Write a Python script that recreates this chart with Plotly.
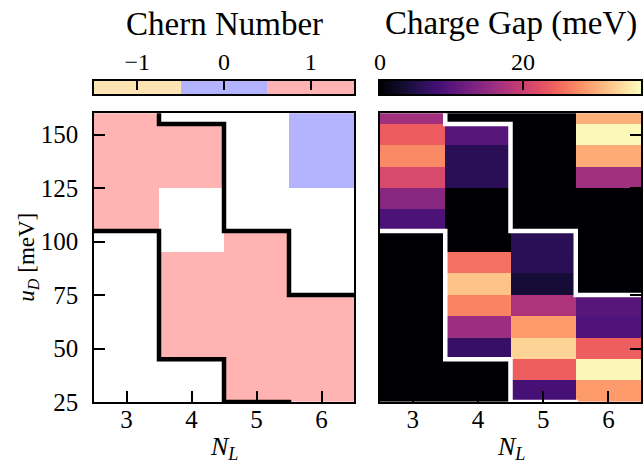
import plotly.graph_objects as go
import numpy as np

N_L = [3, 4, 5, 6]
u_D = [30, 40, 50, 60, 70, 80, 90, 100, 110, 120, 130, 140, 150, 160]

# Chern number per N_L column (rows ordered by u_D ascending); None = gapless
chern_NL3 = [None, None, None, None, None, None, None, None, 1, 1, 1, 1, 1, 1]
chern_NL4 = [None, None, 1, 1, 1, 1, 1, None, None, None, 1, 1, 1, None]
chern_NL5 = [1, 1, 1, 1, 1, 1, 1, 1, None, None, None, None, None, None]
chern_NL6 = [1, 1, 1, 1, 1, None, None, None, None, None, 0, 0, 0, 0]

# Charge gap (meV) per N_L column
gap_NL3 = [0, 0, 0, 0, 0, 0, 0, 0, 8.8, 14.2, 21.5, 27.4, 23.7, 16.4]
gap_NL4 = [0, 0, 7.0, 16.0, 27.0, 31.9, 25.5, 0, 0, 0, 5.8, 5.8, 9.9, 0]
gap_NL5 = [8.4, 24.1, 33.2, 28.8, 17.5, 3.6, 5.8, 5.8, 0, 0, 0, 0, 0, 0]
gap_NL6 = [28.8, 36.0, 24.1, 9.1, 9.9, 0, 0, 0, 0, 0, 16.4, 30.0, 36.1, 30.3]

# Phase boundary lines: u_D of boundary for each N_L column (step lines)
upper_boundary = [165, 155, 105, 75]
lower_boundary = [105, 45, 25, 15]

chern_levels = [-1, 0, 1]
gap_ticks = [0, 20]
y_ticks = [25, 50, 75, 100, 125, 150]
gap_max = 36.5

chern = np.array([chern_NL3, chern_NL4, chern_NL5, chern_NL6], dtype=float).T
gap = np.array([gap_NL3, gap_NL4, gap_NL5, gap_NL6], dtype=float).T

FONT = "Liberation Serif"
W, H = 643, 466
ml, mr, mt, mb = 94, 2, 10, 64
pw = W - ml - mr
ph = H - mt - mb
bottom_px = H - mb


def py(p):
    return (bottom_px - p) / ph


peach, lav, pink = "#ffe4b3", "#b3b3ff", "#ffb3b3"
chern_scale = [[0, peach], [1/3, peach], [1/3, lav], [2/3, lav], [2/3, pink], [1, pink]]

fig = go.Figure()

fig.add_trace(go.Heatmap(x=N_L, y=u_D, z=chern, zmin=-1.5, zmax=1.5, colorscale=chern_scale,
                         showscale=False, xaxis="x", yaxis="y", hoverongaps=False))
fig.add_trace(go.Heatmap(x=N_L, y=u_D, z=gap, zmin=0, zmax=gap_max, colorscale="Magma",
                         showscale=False, xaxis="x2", yaxis="y2"))

edges = [n - 0.5 for n in N_L] + [N_L[-1] + 0.5]
for xa, ya, col in [("x", "y", "black"), ("x2", "y2", "white")]:
    for b in (upper_boundary, lower_boundary):
        fig.add_trace(go.Scatter(x=edges, y=b + [b[-1]], mode="lines",
                                 line=dict(shape="hv", color=col, width=4.5),
                                 xaxis=xa, yaxis=ya, showlegend=False, hoverinfo="skip"))

# colour bars drawn as small heatmaps on their own axes (labels on top)
fig.add_trace(go.Heatmap(x=chern_levels, y=[0.5], z=[chern_levels], zmin=-1.5, zmax=1.5,
                         colorscale=chern_scale, showscale=False, xaxis="x3", yaxis="y3"))
grad = np.linspace(0, gap_max, 300)
fig.add_trace(go.Heatmap(x=grad, y=[0.5], z=[grad], zmin=0, zmax=gap_max,
                         colorscale="Magma", showscale=False, xaxis="x4", yaxis="y4"))

tickfont = dict(family=FONT, size=25, color="black")
ax_common = dict(showline=True, linecolor="black", linewidth=1.5, mirror=True,
                 ticks="inside", ticklen=11, tickwidth=1.5, tickcolor="black",
                 tickfont=tickfont, showgrid=False, zeroline=False)
cb_x = dict(ax_common, side="top", ticklen=9, ticklabelstandoff=0,
            tickfont=dict(family=FONT, size=24, color="black"))
cb_y = dict(showline=True, linecolor="black", linewidth=1.5, mirror=True, ticks="",
            showticklabels=False, showgrid=False, zeroline=False, range=[0, 1])

d1 = [0, 260 / pw]
d2 = [(380 - ml) / pw, 1]
dy = [0, py(113.3)]
dcb = [py(94.3), py(81)]

fig.update_layout(
    width=W, height=H, margin=dict(l=ml, r=mr, t=mt, b=mb, autoexpand=False),
    paper_bgcolor="white", plot_bgcolor="white", showlegend=False,
    xaxis=dict(ax_common, domain=d1, range=[2.5, 6.5], tickvals=N_L, ticklabelstandoff=-6),
    yaxis=dict(ax_common, domain=dy, range=[25, 160], tickvals=y_ticks, ticklabelstandoff=9),
    xaxis2=dict(ax_common, domain=d2, range=[2.5, 6.5], tickvals=N_L, anchor="y2", ticklabelstandoff=-6),
    yaxis2=dict(ax_common, domain=dy, range=[25, 160], tickvals=y_ticks, anchor="x2", side="right",
                showticklabels=False),
    xaxis3=dict(cb_x, domain=d1, range=[-1.5, 1.5], tickvals=chern_levels, anchor="y3"),
    yaxis3=dict(cb_y, domain=dcb, anchor="x3"),
    xaxis4=dict(cb_x, domain=d2, range=[0, gap_max], tickvals=gap_ticks, anchor="y4"),
    yaxis4=dict(cb_y, domain=dcb, anchor="x4"),
)

title_font = dict(family=FONT, size=33, color="black")
label_font = dict(family=FONT, size=26, color="black")
ann = [
    dict(text="Chern Number", xref="x3 domain", x=0.5, yref="paper", y=py(24), font=title_font),
    dict(text="Charge Gap (meV)", xref="x4 domain", x=0.5, yref="paper", y=py(24), font=title_font),
    dict(text="<i>N</i><sub><i>L</i></sub>", xref="x domain", x=0.5, yref="paper", y=py(448), font=label_font),
    dict(text="<i>N</i><sub><i>L</i></sub>", xref="x2 domain", x=0.5, yref="paper", y=py(448), font=label_font),
    dict(text="<i>u</i><sub><i>D</i></sub> [meV]", xref="paper", x=(28 - ml) / pw, yref="y domain", y=0.5,
         textangle=-90, font=dict(family=FONT, size=23, color="black")),
]
for a in ann:
    a.update(showarrow=False, xanchor="center", yanchor="middle")
fig.update_layout(annotations=ann)

fig.write_html("out.html")
